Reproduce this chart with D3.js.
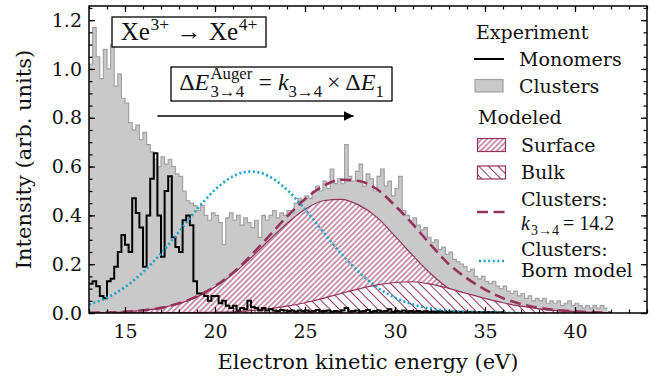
<!DOCTYPE html>
<html>
<head>
<meta charset="utf-8">
<script src="https://cdn.jsdelivr.net/npm/d3@7"></script>
<style>
  body { margin: 0; background: #fff; }
  text { font-family: "DejaVu Serif", serif; fill: #111; }
  .math text { font-family: "Liberation Serif", serif; }
</style>
</head>
<body>
<svg id="chart" width="666" height="381"></svg>
<script>
// histogram bins (eV), 0.2 eV wide, first bin starts at 13.0
const binStart = 13.0;
const binWidth = 0.2;

const clusterCounts = [
  1.02, 1.17, 1.05, 0.96, 1.08,  1.00, 1.10, 0.93, 0.98, 0.88,
  0.86, 0.78, 0.75, 0.77, 0.71,  0.74, 0.69, 0.66, 0.63, 0.60,
  0.64, 0.61, 0.63, 0.60, 0.57,  0.56, 0.50, 0.46, 0.45, 0.44,
  0.42, 0.44, 0.40, 0.38, 0.41,  0.40, 0.37, 0.28, 0.39, 0.41,
  0.38, 0.40, 0.36, 0.39, 0.37,  0.35, 0.38, 0.31, 0.40, 0.38,
  0.40, 0.42, 0.39, 0.41, 0.40,  0.42, 0.41, 0.45, 0.47, 0.46,
  0.48, 0.47, 0.50, 0.52, 0.50,  0.54, 0.51, 0.59, 0.53, 0.55,
  0.53, 0.69, 0.56, 0.54, 0.58,  0.61, 0.52, 0.57, 0.55, 0.50,
  0.56, 0.59, 0.52, 0.54, 0.48,  0.51, 0.56, 0.42, 0.40, 0.38,
  0.39, 0.36, 0.34, 0.35, 0.31,  0.29, 0.30, 0.26, 0.27, 0.24,
  0.25, 0.22, 0.21, 0.20, 0.19,  0.17, 0.18, 0.15, 0.14, 0.15,
  0.13, 0.12, 0.13, 0.11, 0.10,  0.11, 0.09, 0.08, 0.09, 0.07,
  0.08, 0.06, 0.07, 0.05, 0.06,  0.05, 0.06, 0.04, 0.05, 0.04,
  0.05, 0.03, 0.04, 0.05, 0.03,  0.04, 0.03, 0.02, 0.03, 0.02,
  0.03, 0.02, 0.03, 0.02
];

const monomerCounts = [
  0.12, 0.13, 0.11, 0.07, 0.06,  0.13, 0.14, 0.19, 0.25, 0.32,
  0.28, 0.25, 0.47, 0.41, 0.35,  0.19, 0.40, 0.55, 0.655, 0.40,
  0.23, 0.50, 0.56, 0.31, 0.27,  0.25, 0.38, 0.40, 0.36, 0.13,
  0.08, 0.08, 0.07, 0.05, 0.07,  0.07, 0.04, 0.05, 0.03, 0.02,
  0.03, 0.01, 0.02, 0.015, 0.05, 0.025, 0.02, 0.01, 0.02, 0.01,
  0.015, 0.01, 0.008, 0.012, 0.01, 0.008, 0.01, 0.006, 0.01, 0.008,
  0.01, 0.006, 0.008, 0.012, 0.006, 0.008, 0.01, 0.005, 0.008, 0.006,
  0.01, 0.02, 0.006, 0.008, 0.01, 0.006, 0.008, 0.012, 0.005, 0.008,
  0.01, 0.006, 0.008, 0.015, 0.005, 0.008, 0.006, 0.01, 0.005, 0.008,
  0.006, 0.008, 0.005, 0.007, 0.005, 0.006, 0.004, 0.007, 0.005, 0.004,
  0.005, 0.006, 0.004, 0.005, 0.003, 0.004, 0.005, 0.003, 0.004, 0.003,
  0.003, 0.004, 0.003, 0.002, 0.003
];

// modeled curves, sampled every 1 eV
const modelEnergies = [13, 14, 15, 16, 17, 18, 19, 20, 21, 22, 23, 24, 25, 26, 27,
  28, 29, 30, 31, 32, 33, 34, 35, 36, 37, 38, 39, 40, 41, 42];
const surfaceModel = [0.001, 0.002, 0.005, 0.011, 0.021, 0.039, 0.066, 0.107, 0.160, 0.226,
  0.298, 0.367, 0.425, 0.460, 0.466, 0.442, 0.392, 0.315, 0.235, 0.160,
  0.100, 0.062, 0.036, 0.019, 0.009, 0.004, 0.002, 0.001, 0.0, 0.0];
const bulkModel = [0.0, 0.0, 0.0, 0.0, 0.0, 0.001, 0.002, 0.003, 0.005, 0.010,
  0.017, 0.028, 0.042, 0.060, 0.080, 0.099, 0.115, 0.125, 0.128, 0.118,
  0.100, 0.080, 0.060, 0.042, 0.028, 0.017, 0.010, 0.006, 0.003, 0.002];
const clustersModel = [0.001, 0.002, 0.005, 0.011, 0.021, 0.040, 0.068, 0.110, 0.165, 0.236,
  0.315, 0.395, 0.467, 0.520, 0.546, 0.541, 0.507, 0.440, 0.363, 0.278,
  0.200, 0.142, 0.096, 0.061, 0.037, 0.021, 0.012, 0.007, 0.003, 0.002];
const bornModel = [0.035, 0.063, 0.106, 0.167, 0.244, 0.333, 0.425, 0.505, 0.560, 0.580,
  0.560, 0.505, 0.425, 0.333, 0.244, 0.167, 0.106, 0.063, 0.035, 0.018,
  0.009, 0.004, 0.002, 0.001, 0.0, 0.0, 0.0, 0.0, 0.0, 0.0];

const xTicks = [15, 20, 25, 30, 35, 40];
const yTicks = [0.0, 0.2, 0.4, 0.6, 0.8, 1.0, 1.2];

// arrow annotation: monomer peak -> cluster peak
const arrowFrom = 16.8;
const arrowTo = 27.7;
const arrowLevel = 0.807;

const width = 666, height = 381;
const margin = { top: 6, right: 19, bottom: 68, left: 89 };
const chartWidth = width - margin.left - margin.right;
const chartHeight = height - margin.top - margin.bottom;

const maroon = '#96325c';
const cyan = '#18a3c8';

const svg = d3.select('#chart');
const defs = svg.append('defs');

defs.append('clipPath').attr('id', 'plotClip')
  .append('rect').attr('width', chartWidth).attr('height', chartHeight);

function hatch(id, angle, spacing) {
  const p = defs.append('pattern')
    .attr('id', id)
    .attr('patternUnits', 'userSpaceOnUse')
    .attr('width', spacing)
    .attr('height', spacing)
    .attr('patternTransform', `rotate(${angle})`);
  p.append('rect').attr('width', spacing).attr('height', spacing).attr('fill', '#fff');
  p.append('line')
    .attr('x1', spacing / 2).attr('y1', 0)
    .attr('x2', spacing / 2).attr('y2', spacing)
    .attr('stroke', maroon)
    .attr('stroke-width', 1);
}
hatch('hatchSurface', 45, 3.8);
hatch('hatchBulk', -45, 6.8);

const xScale = d3.scaleLinear().domain([13, 44]).range([0, chartWidth]);
const yScale = d3.scaleLinear().domain([0, 1.258]).range([chartHeight, 0]);

const g = svg.append('g')
  .attr('transform', `translate(${margin.left},${margin.top})`);

const plot = g.append('g').attr('clip-path', 'url(#plotClip)');

// step data for histograms
function steps(values) {
  const pts = values.map((v, i) => ({ x: binStart + i * binWidth, y: v }));
  pts.push({ x: binStart + values.length * binWidth, y: values[values.length - 1] });
  return pts;
}
const clusterSteps = steps(clusterCounts);
const monomerSteps = steps(monomerCounts);

const stepArea = d3.area()
  .curve(d3.curveStepAfter)
  .x((d) => xScale(d.x))
  .y0(yScale(0))
  .y1((d) => yScale(d.y));

const stepLine = d3.line()
  .curve(d3.curveStepAfter)
  .x((d) => xScale(d.x))
  .y((d) => yScale(d.y));

plot.append('path')
  .datum(clusterSteps)
  .attr('fill', '#c9c9c9')
  .attr('d', stepArea);

plot.append('path')
  .datum(clusterSteps)
  .attr('fill', 'none')
  .attr('stroke', '#a2a2a2')
  .attr('stroke-width', 1.2)
  .attr('d', stepLine);

// modeled contributions
const model = modelEnergies.map((e, i) => ({
  x: e, surface: surfaceModel[i], bulk: bulkModel[i],
  total: clustersModel[i], born: bornModel[i]
}));

function modelArea(key) {
  return d3.area()
    .curve(d3.curveMonotoneX)
    .x((d) => xScale(d.x))
    .y0(yScale(0))
    .y1((d) => yScale(d[key]));
}
function modelLine(key) {
  return d3.line()
    .curve(d3.curveMonotoneX)
    .x((d) => xScale(d.x))
    .y((d) => yScale(d[key]));
}

plot.append('path')
  .datum(model)
  .attr('fill', 'url(#hatchSurface)')
  .attr('stroke', maroon)
  .attr('stroke-width', 1.2)
  .attr('d', modelArea('surface'));

plot.append('path')
  .datum(model)
  .attr('fill', 'url(#hatchBulk)')
  .attr('stroke', maroon)
  .attr('stroke-width', 1.2)
  .attr('d', modelArea('bulk'));

plot.append('path')
  .datum(monomerSteps)
  .attr('fill', 'none')
  .attr('stroke', '#000')
  .attr('stroke-width', 2)
  .attr('d', stepLine);

plot.append('path')
  .datum(model)
  .attr('fill', 'none')
  .attr('stroke', maroon)
  .attr('stroke-width', 2.6)
  .attr('stroke-dasharray', '11,5.5')
  .attr('d', modelLine('total'));

plot.append('path')
  .datum(model.filter((d) => d.x <= 37))
  .attr('fill', 'none')
  .attr('stroke', cyan)
  .attr('stroke-width', 2.6)
  .attr('stroke-dasharray', '2,2.6')
  .attr('d', modelLine('born'));

// arrow
defs.append('marker')
  .attr('id', 'arrowHead')
  .attr('markerUnits', 'userSpaceOnUse')
  .attr('viewBox', '0 0 10 10')
  .attr('refX', 10).attr('refY', 5)
  .attr('markerWidth', 10).attr('markerHeight', 10)
  .attr('orient', 'auto')
  .append('path').attr('d', 'M0,0 L10,5 L0,10 Z').attr('fill', '#000');

g.append('line')
  .attr('x1', xScale(arrowFrom)).attr('y1', yScale(arrowLevel))
  .attr('x2', xScale(arrowTo)).attr('y2', yScale(arrowLevel))
  .attr('stroke', '#000')
  .attr('stroke-width', 1.5)
  .attr('marker-end', 'url(#arrowHead)');

// axes, ticks pointing inward on all four sides
const minorX = d3.range(13, 45, 1);
const minorY = d3.range(0, 1.26, 0.05);

function addAxis(axisFn, scale, ticks, size, transform, labels) {
  const a = axisFn(scale).tickValues(ticks).tickSizeInner(-size).tickSizeOuter(0);
  if (labels) a.tickFormat(labels).tickPadding(12);
  else a.tickFormat('');
  const ax = g.append('g').attr('transform', transform).call(a);
  ax.select('.domain').remove();
  ax.selectAll('.tick line').attr('stroke', '#000').attr('stroke-width', 1.2);
  ax.selectAll('text').attr('font-size', 19).attr('font-family', '"DejaVu Serif", serif').attr('fill', '#111');
  return ax;
}

addAxis(d3.axisBottom, xScale, minorX, 3.5, `translate(0,${chartHeight})`);
addAxis(d3.axisBottom, xScale, xTicks, 6, `translate(0,${chartHeight})`, d3.format('d'));
addAxis(d3.axisTop, xScale, minorX, 3.5, 'translate(0,0)');
addAxis(d3.axisTop, xScale, xTicks, 6, 'translate(0,0)');
addAxis(d3.axisLeft, yScale, minorY, 3.5, 'translate(0,0)');
const yAx = addAxis(d3.axisLeft, yScale, yTicks, 6, 'translate(0,0)', d3.format('.1f'));
yAx.selectAll('text').attr('x', -7);
addAxis(d3.axisRight, yScale, minorY, 3.5, `translate(${chartWidth},0)`);
addAxis(d3.axisRight, yScale, yTicks, 6, `translate(${chartWidth},0)`);

g.append('rect')
  .attr('width', chartWidth).attr('height', chartHeight)
  .attr('fill', 'none').attr('stroke', '#000').attr('stroke-width', 1.5);

// axis labels
svg.append('text')
  .attr('x', margin.left + chartWidth / 2)
  .attr('y', 369)
  .attr('text-anchor', 'middle')
  .attr('font-size', 21)
  .text('Electron kinetic energy (eV)');

svg.append('text')
  .attr('transform', `translate(31,${margin.top + chartHeight / 2}) rotate(-90)`)
  .attr('text-anchor', 'middle')
  .attr('font-size', 21)
  .text('Intensity (arb. units)');

// small LaTeX-like text builder
function drawMath(parent, x, y, parts, size) {
  const m = parent.append('g').attr('class', 'math');
  let cx = 0, prevStart = 0;
  parts.forEach((p) => {
    const start = p.stack ? prevStart : cx + (p.gap || 0) * size;
    const t = m.append('text')
      .attr('x', start)
      .attr('y', (p.dy || 0) * size)
      .attr('font-size', size * (p.scale || 1))
      .attr('font-style', p.italic ? 'italic' : 'normal')
      .text(p.t);
    const w = t.node().getComputedTextLength();
    prevStart = start;
    cx = Math.max(cx, start + w);
  });
  m.attr('transform', `translate(${x - cx / 2},${y})`);
  return cx;
}

// annotation boxes
svg.append('rect')
  .attr('x', 112).attr('y', 17).attr('width', 154).attr('height', 30)
  .attr('fill', '#fff').attr('stroke', '#000').attr('stroke-width', 1.3);
drawMath(svg, 189, 40, [
  { t: 'Xe' },
  { t: '3+', scale: 0.7, dy: -0.4, gap: 0.02 },
  { t: '→', gap: 0.3 },
  { t: 'Xe', gap: 0.3 },
  { t: '4+', scale: 0.7, dy: -0.4, gap: 0.02 }
], 25);

svg.append('rect')
  .attr('x', 171).attr('y', 67).attr('width', 221).attr('height', 34)
  .attr('fill', '#fff').attr('stroke', '#000').attr('stroke-width', 1.3);
drawMath(svg, 281.5, 90, [
  { t: 'Δ' },
  { t: 'E', italic: true },
  { t: 'Auger', scale: 0.7, dy: -0.45, gap: 0.05 },
  { t: '3→4', scale: 0.7, dy: 0.3, stack: true },
  { t: '=', gap: 0.25 },
  { t: 'k', italic: true, gap: 0.25 },
  { t: '3→4', scale: 0.7, dy: 0.3 },
  { t: '×', gap: 0.2 },
  { t: 'Δ', gap: 0.2 },
  { t: 'E', italic: true },
  { t: '1', scale: 0.7, dy: 0.3 }
], 24);

// legend
const legend = svg.append('g').attr('font-size', 19);

function legendText(x, y, s) {
  legend.append('text').attr('x', x).attr('y', y).attr('dy', '0.35em').text(s);
}

legendText(476, 32, 'Experiment');
legend.append('line').attr('x1', 474).attr('x2', 504).attr('y1', 59).attr('y2', 59)
  .attr('stroke', '#000').attr('stroke-width', 2);
legendText(519, 59, 'Monomers');
legend.append('rect').attr('x', 475).attr('y', 79.5).attr('width', 28).attr('height', 12.5)
  .attr('fill', '#c9c9c9').attr('stroke', '#a2a2a2').attr('stroke-width', 1.2);
legendText(519, 86, 'Clusters');

legendText(478, 117, 'Modeled');
legend.append('rect').attr('x', 477.5).attr('y', 138.5).attr('width', 28).attr('height', 13)
  .attr('fill', 'url(#hatchSurface)').attr('stroke', maroon).attr('stroke-width', 1.2);
legendText(521, 145, 'Surface');
legend.append('rect').attr('x', 477.5).attr('y', 166).attr('width', 28).attr('height', 13)
  .attr('fill', 'url(#hatchBulk)').attr('stroke', maroon).attr('stroke-width', 1.2);
legendText(521, 172, 'Bulk');

legend.append('line').attr('x1', 477).attr('x2', 506).attr('y1', 212).attr('y2', 212)
  .attr('stroke', maroon).attr('stroke-width', 2.6).attr('stroke-dasharray', '11,5.5');
legendText(521, 199, 'Clusters:');
const kLabel = legend.append('g').attr('class', 'math').attr('transform', 'translate(521,230)');
kLabel.append('text').attr('font-size', 20).attr('font-style', 'italic').text('k');
kLabel.append('text').attr('x', 10).attr('y', 4.5).attr('font-size', 14).text('3→4');
kLabel.append('text').attr('x', 42).attr('font-size', 20).text('= 14.2');

legend.append('line').attr('x1', 479).attr('x2', 506).attr('y1', 261).attr('y2', 261)
  .attr('stroke', cyan).attr('stroke-width', 2.6).attr('stroke-dasharray', '2,2.6');
legendText(521, 249, 'Clusters:');
legendText(521, 270, 'Born model');
</script>
</body>
</html>
